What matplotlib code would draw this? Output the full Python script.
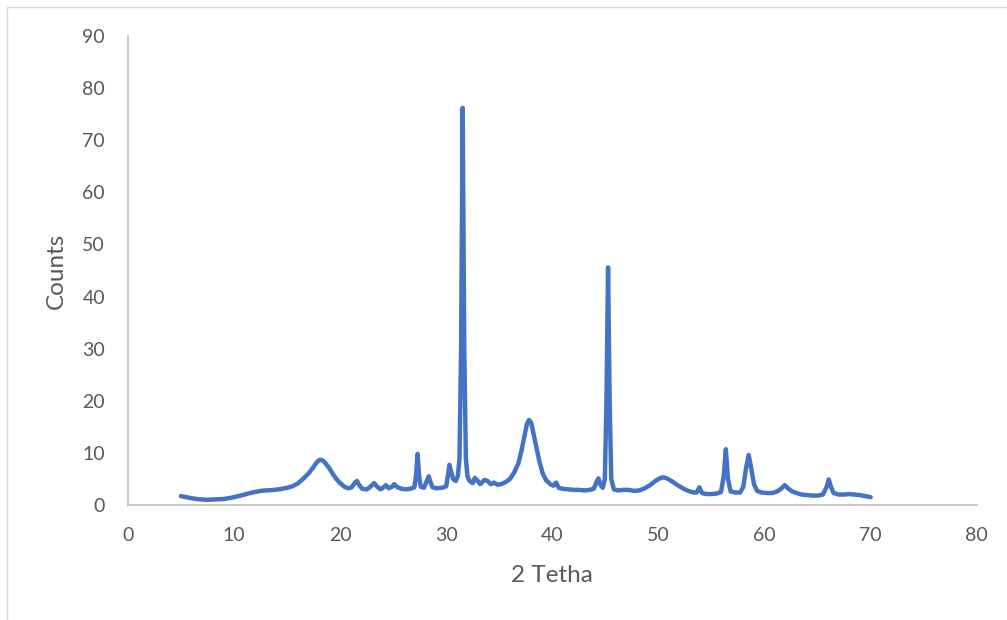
import matplotlib
matplotlib.use("Agg")
import matplotlib.pyplot as plt
from matplotlib.patches import Rectangle

# XRD pattern
two_theta = [
    5.0, 5.5, 6.0, 6.5, 7.0, 7.5, 8.0, 8.5, 9.0, 9.5,
    10.0, 10.5, 11.0, 11.5, 12.0, 12.5, 13.0, 13.5, 14.0, 14.5,
    15.0, 15.5, 16.0, 16.5, 17.0, 17.5, 17.8, 18.1, 18.4, 18.7,
    19.0, 19.3, 19.6, 20.0, 20.4, 20.8, 21.1, 21.4, 21.6, 21.8,
    22.1, 22.5, 22.8, 23.2, 23.5, 23.8, 24.1, 24.3, 24.6, 24.9,
    25.1, 25.4, 25.8, 26.2, 26.6, 27.0, 27.15, 27.3, 27.45, 27.6,
    27.9, 28.2, 28.35, 28.5, 28.7, 29.1, 29.6, 30.0, 30.15, 30.3,
    30.45, 30.65, 30.9, 31.1, 31.25, 31.4, 31.55, 31.7, 31.85, 32.0,
    32.2, 32.5, 32.7, 32.9, 33.2, 33.6, 33.9, 34.2, 34.5, 34.8,
    35.2, 35.6, 36.0, 36.4, 36.8, 37.1, 37.4, 37.6, 37.8, 38.0,
    38.2, 38.5, 38.8, 39.1, 39.4, 39.8, 40.1, 40.35, 40.6, 41.0,
    41.5, 42.0, 42.5, 43.0, 43.5, 43.9, 44.2, 44.35, 44.55, 44.75,
    44.95, 45.1, 45.25, 45.4, 45.55, 45.8, 46.2, 46.7, 47.2, 47.7,
    48.2, 48.7, 49.2, 49.7, 50.2, 50.5, 50.9, 51.3, 51.8, 52.3,
    52.8, 53.3, 53.6, 53.85, 54.1, 54.5, 55.0, 55.5, 55.9, 56.15,
    56.35, 56.55, 56.8, 57.2, 57.7, 58.0, 58.25, 58.5, 58.75, 59.0,
    59.3, 59.7, 60.2, 60.7, 61.2, 61.6, 61.9, 62.2, 62.6, 63.0,
    63.5, 64.0, 64.5, 65.0, 65.5, 65.85, 66.05, 66.25, 66.5, 67.0,
    67.5, 68.0, 68.5, 69.0, 69.5, 70.0,
]
counts = [
    1.7, 1.5, 1.3, 1.15, 1.05, 1.0, 1.05, 1.1, 1.15, 1.3,
    1.5, 1.75, 2.0, 2.3, 2.5, 2.7, 2.8, 2.85, 2.95, 3.1,
    3.3, 3.6, 4.1, 5.0, 6.0, 7.3, 8.2, 8.7, 8.5, 7.8,
    7.0, 6.0, 5.1, 4.2, 3.5, 3.2, 3.4, 4.3, 4.6, 3.8,
    3.1, 3.0, 3.4, 4.2, 3.5, 3.0, 3.4, 3.8, 3.2, 3.5,
    4.0, 3.4, 3.1, 3.0, 3.1, 3.4, 5.5, 9.8, 5.5, 3.5,
    3.3, 4.8, 5.5, 4.5, 3.4, 3.2, 3.3, 3.6, 5.5, 7.7,
    6.5, 5.0, 4.6, 5.6, 9.0, 30.0, 76.2, 30.0, 9.0, 5.5,
    4.6, 4.2, 5.2, 4.8, 4.0, 4.8, 4.6, 4.0, 4.3, 3.9,
    4.0, 4.4, 5.0, 6.2, 8.0, 10.5, 13.5, 15.5, 16.3, 15.8,
    14.0, 11.0, 8.2, 6.0, 4.8, 4.0, 3.7, 4.3, 3.3, 3.1,
    3.0, 2.9, 2.9, 2.8, 2.9, 3.1, 4.6, 5.1, 3.8, 3.3,
    5.0, 20.0, 45.6, 20.0, 5.0, 3.0, 2.8, 2.9, 2.9, 2.7,
    2.8, 3.2, 3.8, 4.6, 5.2, 5.3, 5.0, 4.5, 3.8, 3.2,
    2.7, 2.4, 2.4, 3.4, 2.3, 2.1, 2.1, 2.2, 2.5, 5.5,
    10.7, 5.0, 2.6, 2.4, 2.4, 3.5, 7.0, 9.6, 7.0, 4.0,
    2.7, 2.4, 2.3, 2.3, 2.6, 3.2, 3.8, 3.2, 2.6, 2.3,
    2.0, 1.9, 1.8, 1.8, 2.0, 3.5, 4.9, 3.5, 2.3, 2.0,
    2.0, 2.1, 2.0, 1.9, 1.7, 1.5,
]

plt.rcParams["font.family"] = ["Lato", "DejaVu Sans"]

fig = plt.figure(figsize=(10.07, 6.2), dpi=100)
ax = fig.add_axes([0.127, 0.1855, 0.843, 0.7565])

# light chart border like Excel
fig.patches.append(Rectangle((7 / 1007, -0.1), 1.2, 1 - 7 / 620 + 0.1,
                             transform=fig.transFigure, fill=False,
                             edgecolor="#d9d9d9", linewidth=1))

ax.plot(two_theta, counts, color="#4472C4", linewidth=3.2,
        solid_joinstyle="round", solid_capstyle="round")

ax.set_xlim(0, 80)
ax.set_ylim(0, 90)
ax.set_xticks(range(0, 81, 10))
ax.set_yticks(range(0, 91, 10))
ax.tick_params(axis="y", length=0, labelsize=14, colors="#595959", pad=16.5)
ax.tick_params(axis="x", length=0, labelsize=14, colors="#595959", pad=16)

for side in ["top", "right"]:
    ax.spines[side].set_visible(False)
for side in ["left", "bottom"]:
    ax.spines[side].set_color("#bfbfbf")
    ax.spines[side].set_linewidth(1.2)

ax.set_xlabel("2 Tetha", fontsize=17.5, color="#595959")
ax.set_ylabel("Counts", fontsize=17.5, color="#595959")
ax.xaxis.set_label_coords(0.5, -0.127)
ax.yaxis.set_label_coords(-0.072, 0.5)

fig.savefig("out.png", dpi=100)
